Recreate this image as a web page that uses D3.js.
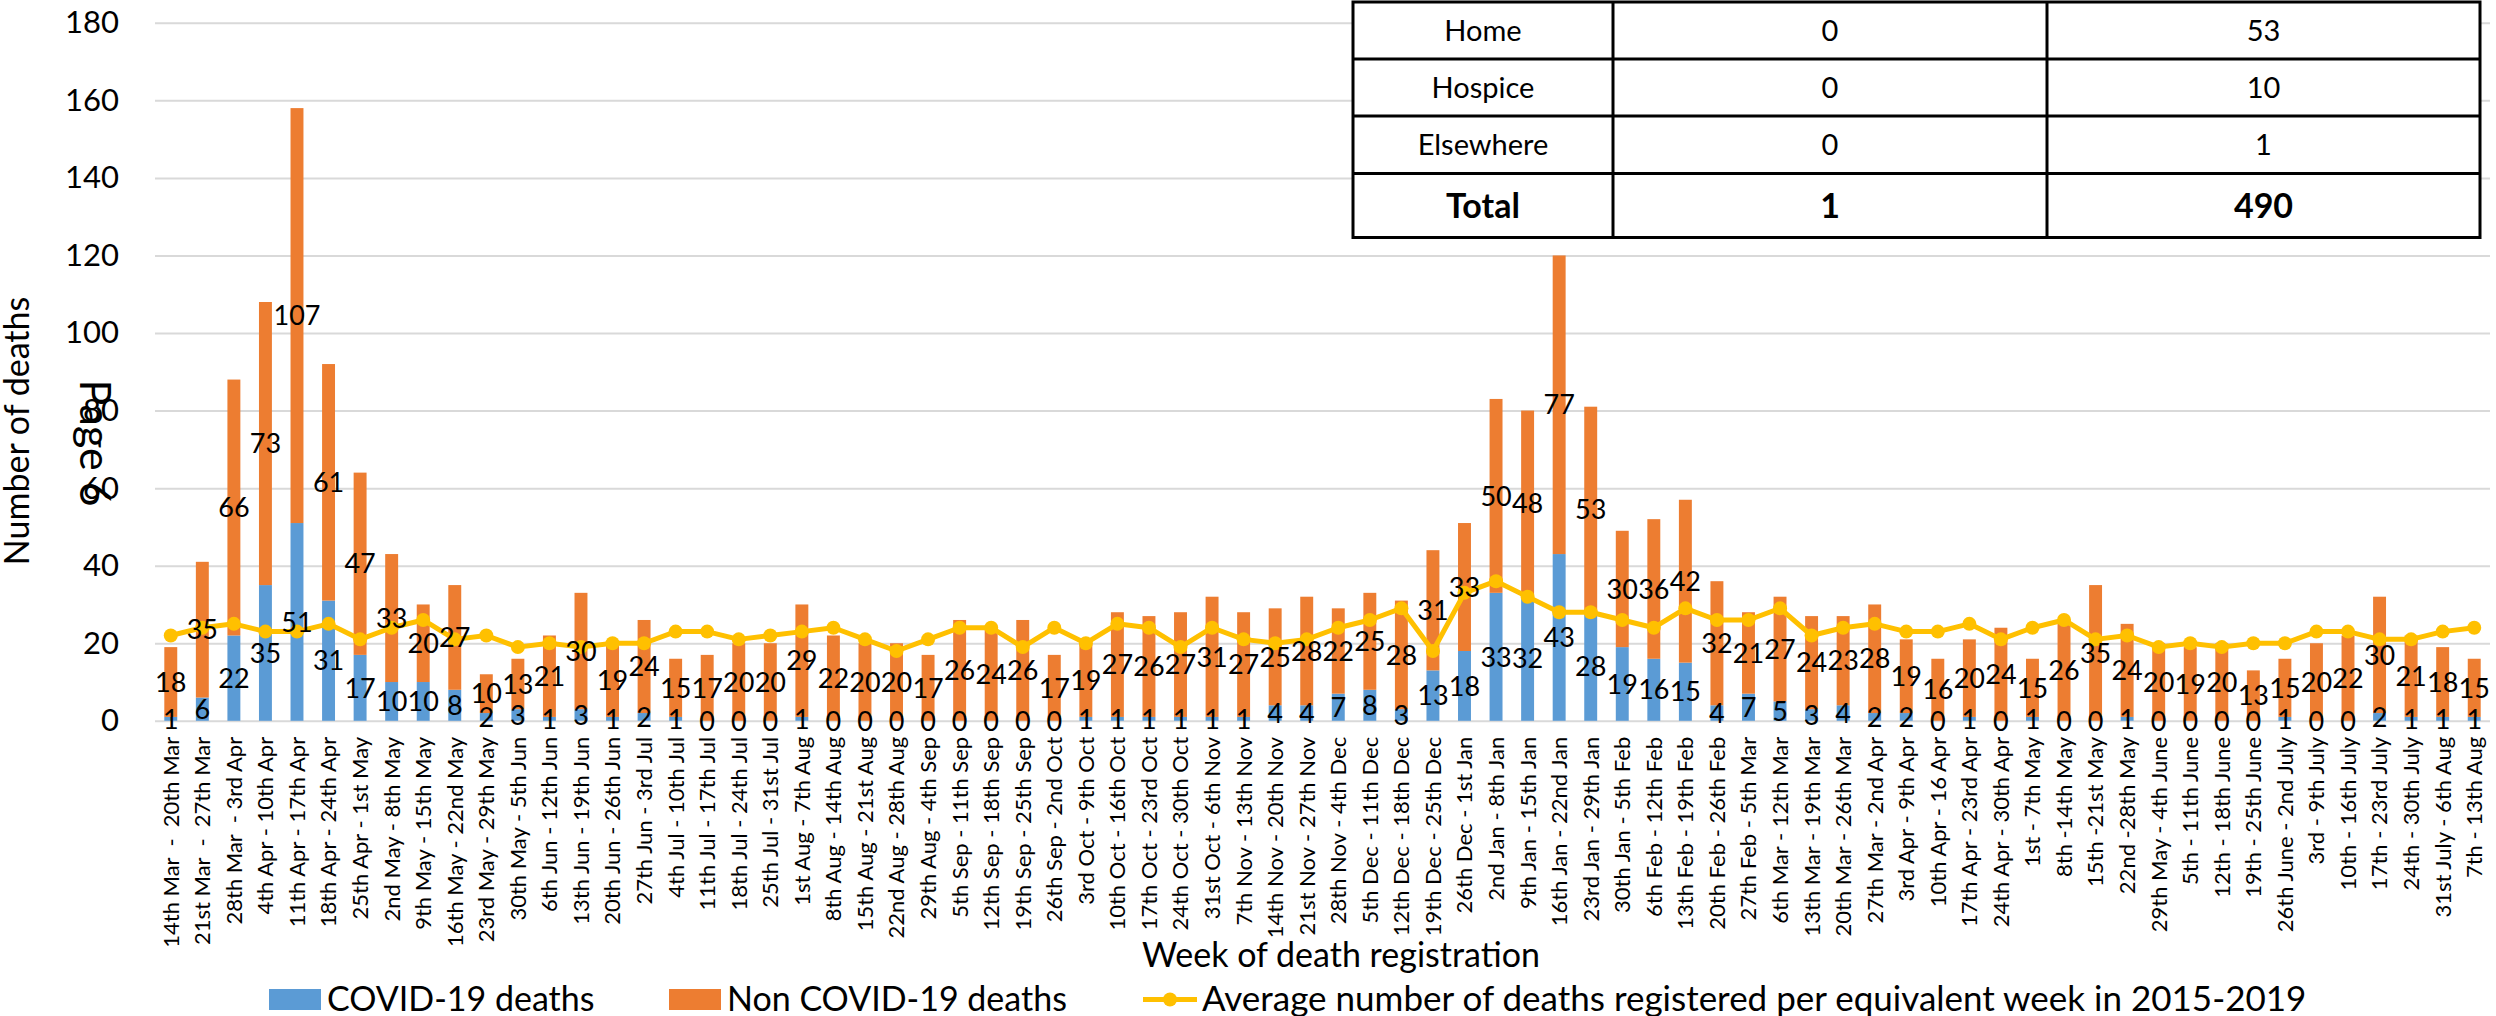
<!DOCTYPE html>
<html>
<head>
<meta charset="utf-8">
<script src="https://cdn.jsdelivr.net/npm/d3@7"></script>
<style>
  html, body { margin: 0; padding: 0; background: #fff; }
  svg { display: block; }
  text { white-space: pre; }
</style>
</head>
<body>
<div id="chart"></div>
<script>
const categories = [
  "14th Mar  -  20th Mar", "21st Mar  -  27th Mar", "28th Mar  - 3rd Apr", "4th Apr - 10th Apr",
  "11th Apr - 17th Apr", "18th Apr - 24th Apr", "25th Apr - 1st May", "2nd May - 8th May",
  "9th May - 15th May", "16th May - 22nd May", "23rd May - 29th May", "30th May - 5th Jun",
  "6th Jun - 12th Jun", "13th Jun - 19th Jun", "20th Jun - 26th Jun", "27th Jun - 3rd Jul",
  "4th Jul - 10th Jul", "11th Jul - 17th Jul", "18th Jul - 24th Jul", "25th Jul - 31st Jul",
  "1st Aug - 7th Aug", "8th Aug - 14th Aug", "15th Aug - 21st Aug", "22nd Aug - 28th Aug",
  "29th Aug - 4th Sep", "5th Sep - 11th Sep", "12th Sep - 18th Sep", "19th Sep - 25th Sep",
  "26th Sep - 2nd Oct", "3rd Oct - 9th Oct", "10th Oct - 16th Oct", "17th Oct - 23rd Oct",
  "24th Oct - 30th Oct", "31st Oct - 6th Nov", "7th Nov - 13th Nov", "14th Nov - 20th Nov",
  "21st Nov - 27th Nov", "28th Nov - 4th Dec", "5th Dec - 11th Dec", "12th Dec - 18th Dec",
  "19th Dec - 25th Dec", "26th Dec - 1st Jan", "2nd Jan - 8th Jan", "9th Jan - 15th Jan",
  "16th Jan - 22nd Jan", "23rd Jan - 29th Jan", "30th Jan - 5th Feb", "6th Feb - 12th Feb",
  "13th Feb - 19th Feb", "20th Feb - 26th Feb", "27th Feb - 5th Mar", "6th Mar - 12th Mar",
  "13th Mar - 19th Mar", "20th Mar - 26th Mar", "27th Mar - 2nd Apr", "3rd Apr - 9th Apr",
  "10th Apr - 16 Apr", "17th Apr - 23rd Apr", "24th Apr - 30th Apr", "1st - 7th May",
  "8th -14th May", "15th -21st May", "22nd -28th May", "29th May - 4th June",
  "5th - 11th June", "12th - 18th June", "19th - 25th June", "26th June - 2nd July",
  "3rd - 9th July", "10th - 16th July", "17th - 23rd July", "24th - 30th July",
  "31st July - 6th Aug", "7th - 13th Aug"
];

const covidDeaths = [
  1, 6, 22, 35, 51, 31, 17, 10, 10, 8, 2, 3, 1, 3, 1, 2, 1, 0, 0, 0,
  1, 0, 0, 0, 0, 0, 0, 0, 0, 1, 1, 1, 1, 1, 1, 4, 4, 7, 8, 3,
  13, 18, 33, 32, 43, 28, 19, 16, 15, 4, 7, 5, 3, 4, 2, 2, 0, 1, 0, 1,
  0, 0, 1, 0, 0, 0, 0, 1, 0, 0, 2, 1, 1, 1
];

const nonCovidDeaths = [
  18, 35, 66, 73, 107, 61, 47, 33, 20, 27, 10, 13, 21, 30, 19, 24, 15, 17, 20, 20,
  29, 22, 20, 20, 17, 26, 24, 26, 17, 19, 27, 26, 27, 31, 27, 25, 28, 22, 25, 28,
  31, 33, 50, 48, 77, 53, 30, 36, 42, 32, 21, 27, 24, 23, 28, 19, 16, 20, 24, 15,
  26, 35, 24, 20, 19, 20, 13, 15, 20, 22, 30, 21, 18, 15
];

const averageDeaths = [
  22, 24, 25, 23, 23, 25, 21, 24, 26, 21, 22, 19, 20, 19, 20, 20, 23, 23, 21, 22,
  23, 24, 21, 18, 21, 24, 24, 19, 24, 20, 25, 24, 19, 24, 21, 20, 21, 24, 26, 29,
  18, 33, 36, 32, 28, 28, 26, 24, 29, 26, 26, 29, 22, 24, 25, 23, 23, 25, 21, 24,
  26, 21, 22, 19, 20, 19, 20, 20, 23, 23, 21, 21, 23, 24
];

const yTicks = [0, 20, 40, 60, 80, 100, 120, 140, 160, 180];

const tablePlaces = ["Home", "Hospice", "Elsewhere", "Total"];
const tableCovid = [0, 0, 0, 1];
const tableAll = [53, 10, 1, 490];

const seriesNames = ["COVID-19 deaths", "Non COVID-19 deaths", "Average number of deaths registered per equivalent week in 2015-2019"];
const colors = { covid: "#5B9BD5", non: "#ED7D31", avg: "#FFC000" };

const FONT = "Lato, 'Liberation Sans', sans-serif";

const W = 2496, H = 1016;
const svg = d3.select("#chart").append("svg").attr("width", W).attr("height", H)
  .style("font-family", FONT);
svg.append("rect").attr("width", W).attr("height", H).attr("fill", "#fff");

const x = d3.scaleBand().domain(categories).range([155, 2490]).paddingInner(0.59).paddingOuter(0.295);
const y = d3.scaleLinear().domain([0, 180]).range([720.8, 22.8]);

// gridlines + y ticks
const yAxis = svg.append("g").attr("transform", `translate(155,0)`)
  .call(d3.axisLeft(y).tickValues(yTicks).tickSize(-(2490 - 155)).tickPadding(36));
yAxis.select(".domain").remove();
yAxis.selectAll(".tick line").attr("stroke", "#D9D9D9").attr("stroke-width", 2);
yAxis.selectAll(".tick text").attr("font-size", 31).attr("fill", "#000").style("font-family", FONT);

// stacked bars
const rows = categories.map((c, i) => ({ cat: c, covid: covidDeaths[i], non: nonCovidDeaths[i] }));
const stack = d3.stack().keys(["covid", "non"])(rows);
const barW = x.bandwidth();
const layers = svg.append("g").selectAll("g").data(stack).join("g")
  .attr("fill", d => d.key === "covid" ? colors.covid : colors.non);
layers.selectAll("rect").data(d => d).join("rect")
  .attr("x", d => x(d.data.cat))
  .attr("y", d => y(d[1]))
  .attr("width", barW)
  .attr("height", d => y(d[0]) - y(d[1]));

// line
const cx = c => x(c) + barW / 2;
svg.append("path")
  .datum(averageDeaths)
  .attr("fill", "none").attr("stroke", colors.avg).attr("stroke-width", 5).attr("stroke-linejoin", "round")
  .attr("d", d3.line().x((d, i) => cx(categories[i])).y(d => y(d)));
svg.append("g").selectAll("circle").data(averageDeaths).join("circle")
  .attr("cx", (d, i) => cx(categories[i])).attr("cy", d => y(d)).attr("r", 7).attr("fill", colors.avg);

// data labels
const lbl = svg.append("g").attr("font-size", 27).attr("fill", "#000").attr("text-anchor", "middle");
stack.forEach(layer => {
  lbl.append("g").selectAll("text").data(layer).join("text")
    .attr("x", d => cx(d.data.cat))
    .attr("y", d => y((d[0] + d[1]) / 2))
    .attr("dy", "0.36em")
    .text(d => d[1] - d[0]);
});

// x axis labels
const xAxis = svg.append("g").attr("transform", `translate(0,720.8)`)
  .call(d3.axisBottom(x).tickSize(0));
xAxis.select(".domain").remove();
xAxis.selectAll(".tick text")
  .attr("font-size", 22).style("font-family", FONT).attr("fill", "#000")
  .attr("text-anchor", "end").attr("x", 0).attr("y", 0).attr("dy", "0.36em")
  .attr("transform", "translate(0,16) rotate(-90)");

// axis titles
svg.append("text").attr("transform", "translate(29,431) rotate(-90)")
  .attr("text-anchor", "middle").attr("font-size", 34).text("Number of deaths");
svg.append("text").attr("x", 1341).attr("y", 967)
  .attr("text-anchor", "middle").attr("font-size", 34).text("Week of death registration");

// "Page 6" artefact
svg.append("text").attr("transform", "translate(80,443) rotate(90)")
  .attr("text-anchor", "middle").attr("font-size", 43).text("Page 6");

// table
const colX = [1353, 1613, 2047, 2480];
const rowY = [2, 59, 116, 173.5, 237.5];
const tbl = svg.append("g");
tbl.append("rect").attr("x", colX[0]).attr("y", rowY[0]).attr("width", colX[3] - colX[0]).attr("height", rowY[4] - rowY[0])
  .attr("fill", "#fff").attr("stroke", "#000").attr("stroke-width", 3);
rowY.slice(1, 4).forEach(yy => tbl.append("line").attr("x1", colX[0]).attr("x2", colX[3]).attr("y1", yy).attr("y2", yy).attr("stroke", "#000").attr("stroke-width", 3));
colX.slice(1, 3).forEach(xx => tbl.append("line").attr("x1", xx).attr("x2", xx).attr("y1", rowY[0]).attr("y2", rowY[4]).attr("stroke", "#000").attr("stroke-width", 3));
tablePlaces.forEach((p, i) => {
  const bold = p === "Total";
  const cyy = (rowY[i] + rowY[i + 1]) / 2;
  [p, tableCovid[i], tableAll[i]].forEach((v, j) => {
    tbl.append("text").attr("x", (colX[j] + colX[j + 1]) / 2).attr("y", cyy).attr("dy", "0.36em")
      .attr("text-anchor", "middle").attr("font-size", bold ? 34 : 29)
      .attr("font-weight", bold ? "bold" : "normal").text(v);
  });
});

// legend
const lg = svg.append("g").attr("font-size", 34);
lg.append("rect").attr("x", 269).attr("y", 989).attr("width", 52).attr("height", 21).attr("fill", colors.covid);
lg.append("text").attr("x", 327).attr("y", 1011).text(seriesNames[0]);
lg.append("rect").attr("x", 669).attr("y", 989).attr("width", 52).attr("height", 21).attr("fill", colors.non);
lg.append("text").attr("x", 727).attr("y", 1011).text(seriesNames[1]);
lg.append("line").attr("x1", 1143).attr("x2", 1197).attr("y1", 999.5).attr("y2", 999.5).attr("stroke", colors.avg).attr("stroke-width", 5);
lg.append("circle").attr("cx", 1170).attr("cy", 999.5).attr("r", 7).attr("fill", colors.avg);
lg.append("text").attr("x", 1202).attr("y", 1011).attr("font-size", 35).text(seriesNames[2]);
</script>
</body>
</html>
